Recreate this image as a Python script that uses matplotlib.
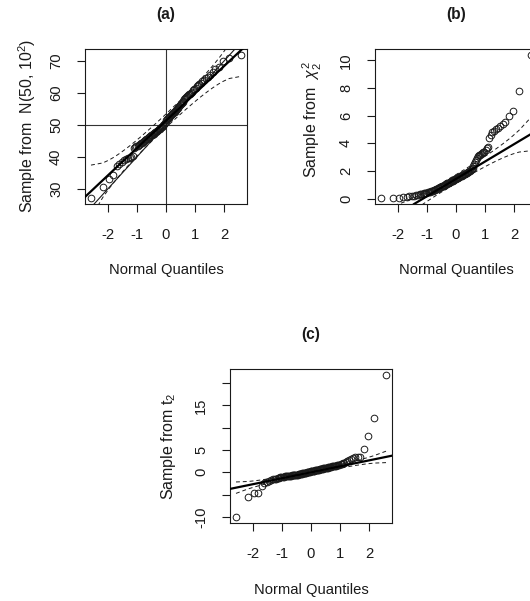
from statistics import NormalDist

import matplotlib
matplotlib.use("Agg")
import matplotlib.pyplot as plt
import numpy as np

plt.rcParams["font.family"] = ["Liberation Sans", "DejaVu Sans"]
plt.rcParams["mathtext.fontset"] = "custom"
plt.rcParams["mathtext.rm"] = "Liberation Sans"
plt.rcParams["mathtext.it"] = "Liberation Sans:italic"
plt.rcParams["axes.unicode_minus"] = False

# sorted samples (n = 100 each)
sample_a = [
    27.1, 30.5, 33.2, 34.4, 37.3, 37.9, 38.4, 38.9, 39.3, 39.6,
    39.8, 40.1, 40.4, 42.9, 43.1, 43.3, 43.5, 43.8, 44.0, 44.3,
    44.5, 44.8, 45.0, 45.2, 45.5, 45.7, 45.9, 46.1, 46.3, 46.5,
    46.7, 46.9, 47.1, 47.3, 47.5, 47.7, 47.9, 48.0, 48.2, 48.4,
    48.6, 48.8, 49.0, 49.2, 49.4, 49.6, 49.9, 50.2, 50.6, 51.0,
    51.4, 51.7, 52.0, 52.3, 52.6, 52.9, 53.1, 53.3, 53.5, 53.7,
    53.9, 54.1, 54.3, 54.6, 54.9, 55.2, 55.5, 55.8, 56.1, 56.4,
    56.8, 57.2, 57.6, 58.0, 58.3, 58.6, 58.9, 59.2, 59.5, 59.8,
    60.1, 60.4, 60.8, 61.2, 61.6, 62.0, 62.4, 62.8, 63.2, 63.6,
    64.0, 64.5, 65.0, 65.6, 66.4, 67.3, 68.0, 69.8, 70.8, 71.9,
]
sample_b = [
    0.02, 0.04, 0.06, 0.08, 0.12, 0.15, 0.17, 0.20, 0.24, 0.27,
    0.30, 0.33, 0.36, 0.39, 0.41, 0.43, 0.45, 0.47, 0.50, 0.53,
    0.56, 0.58, 0.60, 0.63, 0.66, 0.70, 0.73, 0.76, 0.79, 0.82,
    0.85, 0.88, 0.91, 0.94, 0.97, 1.00, 1.03, 1.06, 1.09, 1.12,
    1.15, 1.18, 1.21, 1.24, 1.27, 1.30, 1.33, 1.36, 1.39, 1.42,
    1.45, 1.48, 1.51, 1.54, 1.57, 1.60, 1.63, 1.66, 1.69, 1.72,
    1.75, 1.78, 1.81, 1.84, 1.87, 1.90, 1.94, 1.98, 2.02, 2.06,
    2.12, 2.20, 2.35, 2.50, 2.65, 2.80, 2.95, 3.05, 3.12, 3.18,
    3.24, 3.30, 3.35, 3.40, 3.50, 3.62, 3.75, 4.35, 4.62, 4.80,
    4.90, 5.00, 5.10, 5.25, 5.40, 5.50, 6.00, 6.30, 7.80, 10.4,
]
sample_c = [
    -10.1, -5.6, -4.7, -4.6, -3.0, -2.3, -2.1, -1.9, -1.7, -1.6,
    -1.5, -1.4, -1.3, -1.2, -1.1, -1.05, -1.0, -0.95, -0.9, -0.88,
    -0.85, -0.82, -0.8, -0.77, -0.74, -0.71, -0.68, -0.65, -0.62, -0.59,
    -0.56, -0.53, -0.5, -0.46, -0.42, -0.38, -0.34, -0.3, -0.26, -0.22,
    -0.18, -0.14, -0.1, -0.06, -0.02, 0.02, 0.06, 0.1, 0.14, 0.18,
    0.22, 0.26, 0.3, 0.34, 0.38, 0.42, 0.46, 0.5, 0.54, 0.58,
    0.62, 0.66, 0.7, 0.74, 0.78, 0.82, 0.86, 0.9, 0.94, 0.98,
    1.02, 1.06, 1.1, 1.15, 1.2, 1.25, 1.3, 1.35, 1.4, 1.45,
    1.5, 1.56, 1.62, 1.7, 1.8, 1.9, 2.0, 2.15, 2.3, 2.5,
    2.7, 2.9, 3.2, 3.4, 3.5, 3.5, 5.2, 8.1, 12.1, 21.9,
]

# fitted reference lines (intercept, slope)
line_a = (51.3, 8.55)
line_b = (1.42, 1.26)
line_c = (0.0, 1.34)
true_line_a = (50.0, 10.0)

titles = ["(a)", "(b)", "(c)"]
ylabels = ["Sample from  N(50, 10$^2$)", "Sample from  $\\chi^2_2$",
           "Sample from t$_2$"]
xlabel = "Normal Quantiles"
xticks = [-2, -1, 0, 1, 2]
yticks_a = [30, 40, 50, 60, 70]
yticks_b = [0, 2, 4, 6, 8, 10]
yticks_c = [-10, -5, 0, 5, 10, 15, 20]
ylabels_c = ["-10", "", "0", "5", "", "15", ""]

W, H = 530, 601
fig = plt.figure(figsize=(W / 100, H / 100), dpi=100)
nd = NormalDist()
FS = 10.6
INK = "#1a1a1a"


def px_axes(left, top, right, bottom):
    return fig.add_axes([left / W, 1 - bottom / H, (right - left) / W,
                         (bottom - top) / H])


def qq_panel(ax, sample, line):
    y = np.array(sample)
    n = len(y)
    p = (np.arange(1, n + 1) - 0.5) / n
    z = np.array([nd.inv_cdf(v) for v in p])
    a, b = line
    # pointwise 95% envelope around the line, car::qqPlot style
    se = b / np.array([nd.pdf(v) for v in z]) * np.sqrt(p * (1 - p) / n)
    fit = a + b * z
    ax.plot(z, y, "o", mfc="none", mec=INK, ms=4.8, mew=0.7, zorder=3)
    ax.axline((0, a), slope=b, color="black", lw=1.6, zorder=4)
    ax.plot(z, fit + 1.96 * se, color=INK, lw=0.7, ls=(0, (4, 3)), zorder=4)
    ax.plot(z, fit - 1.96 * se, color=INK, lw=0.7, ls=(0, (4, 3)), zorder=4)
    zx = 0.04 * (z.max() - z.min())
    yx = 0.04 * (y.max() - y.min())
    ax.set_xlim(z.min() - zx, z.max() + zx)
    ax.set_ylim(y.min() - yx, y.max() + yx)
    ax.set_xticks(xticks)
    ax.set_xticklabels([str(t) for t in xticks])
    ax.tick_params(length=5.8, width=0.8, color=INK, labelsize=FS,
                   labelcolor=INK)
    ax.tick_params(axis="x", pad=11.5)
    ax.tick_params(axis="y", pad=10)
    for s in ax.spines.values():
        s.set_linewidth(0.8)
        s.set_color(INK)


def set_yt(ax, ticks, labels=None):
    ax.set_yticks(ticks)
    ax.set_yticklabels(labels if labels else [str(t) for t in ticks])
    for lbl in ax.get_yticklabels():
        lbl.set_rotation(90)
        lbl.set_va("center")


ax_a = px_axes(85, 49, 247, 204)
qq_panel(ax_a, sample_a, line_a)
ax_a.axline((0, true_line_a[0]), slope=true_line_a[1], color=INK, lw=0.8)
ax_a.axvline(0, color="#333333", lw=0.8)
ax_a.axhline(50, color="#333333", lw=0.8)
set_yt(ax_a, yticks_a)

ax_b = px_axes(375, 49, 537, 204)
qq_panel(ax_b, sample_b, line_b)
set_yt(ax_b, yticks_b)

ax_c = px_axes(230, 369, 392, 523)
qq_panel(ax_c, sample_c, line_c)
set_yt(ax_c, yticks_c, ylabels_c)

# titles and axis labels placed in pixel coordinates
text_pos = [
    (166, 15, 166, 270, 27, 126),
    (456, 15, 456, 270, 312, 120),
    (311, 335, 311, 590, 169, 446),
]
for (tx, ty, xx, xy, yx, yy), t, yl in zip(text_pos, titles, ylabels):
    fig.text(tx / W, 1 - ty / H, t, ha="center", va="center",
             fontsize=11.2, fontweight="bold", color=INK)
    fig.text(xx / W, 1 - xy / H, xlabel, ha="center", va="center",
             fontsize=FS, color=INK)
    fig.text(yx / W, 1 - yy / H, yl, ha="center", va="center",
             rotation=90, fontsize=11.5, color=INK)

fig.savefig("out.png", dpi=100)
